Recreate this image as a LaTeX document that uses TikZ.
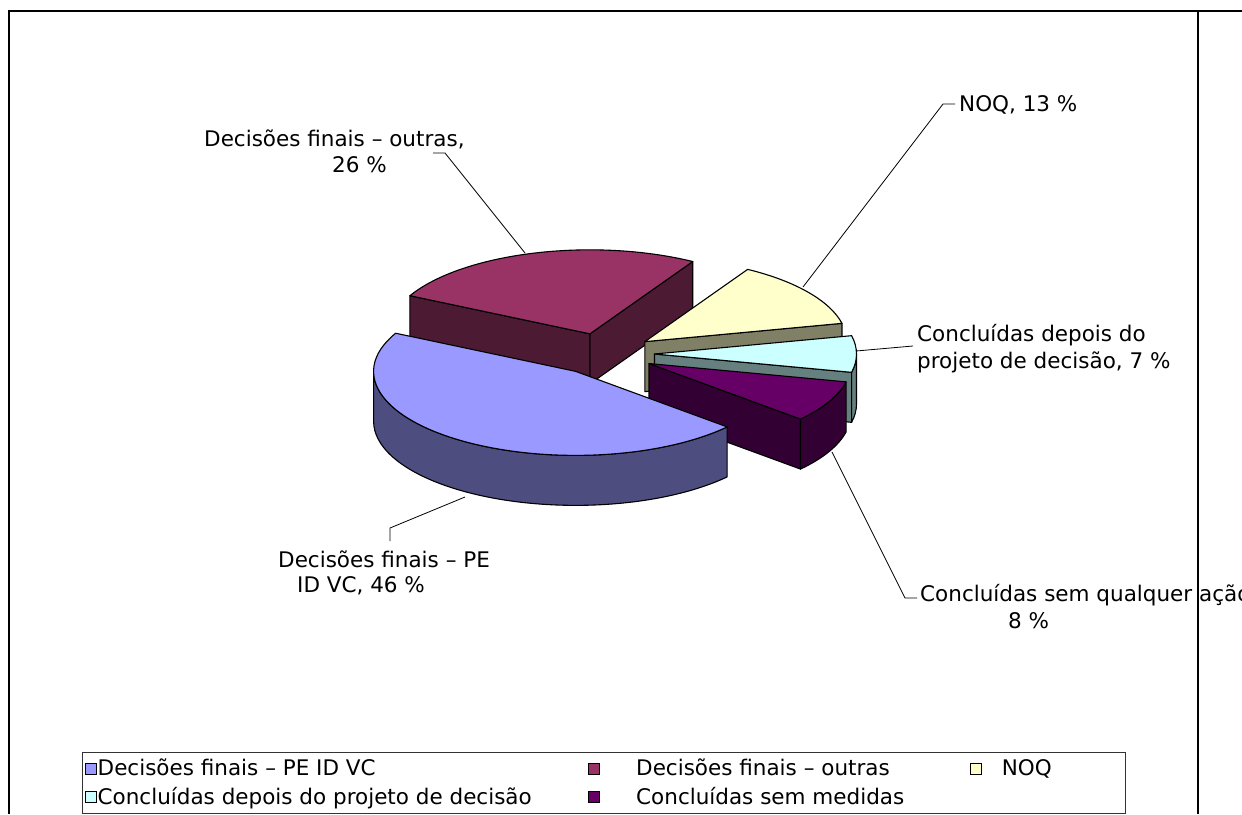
\documentclass[tikz,border=0pt]{standalone}
\usepackage{fontspec}
\setmainfont{DejaVu Sans}
\usetikzlibrary{calc}
\definecolor{blueT}{HTML}{9999FF}
\definecolor{blueS}{HTML}{4D4D80}
\definecolor{maroonT}{HTML}{993366}
\definecolor{maroonS}{HTML}{4D1A33}
\definecolor{yellowT}{HTML}{FFFFCC}
\definecolor{yellowS}{HTML}{808066}
\definecolor{cyanT}{HTML}{CCFFFF}
\definecolor{cyanS}{HTML}{668080}
\definecolor{purpleT}{HTML}{660066}
\definecolor{purpleS}{HTML}{330033}
\begin{document}
\begin{tikzpicture}[x=1pt,y=-1pt,
  face/.style={draw=black,line width=1.1pt,line join=round},
  ell/.style={x radius=202pt,y radius=84pt},
  lbl/.style={inner sep=0pt,anchor=base west,font=\fontsize{21.5}{26}\selectfont},
  legtext/.style={inner sep=0pt,anchor=base west,font=\fontsize{21.5}{26}\selectfont},
  legbox/.style={draw=black,line width=1pt,minimum size=11pt,inner sep=0pt},
  leader/.style={draw=black,line width=0.8pt},
  frame/.style={draw=black,line width=2pt}]
\useasboundingbox (0,0) rectangle (1242,814);
\fill[white] (0,0) rectangle (1242,814);

% frame
\draw[frame] (8.7,814) -- (8.7,11) -- (1242,11);
\draw[frame] (1198.3,11) -- (1198.3,814);

\coordinate (C) at (604,354);
% apexes (exploded slices)
\coordinate (AM) at ($(C)+(106.2:50.5pt and 21pt)$);
\coordinate (AY) at ($(C)+(36:50.5pt and 21pt)$);
\coordinate (AC) at ($(C)+(0:50.5pt and 21pt)$);
\coordinate (AP) at ($(C)+(333:50.5pt and 21pt)$);
\coordinate (AB) at ($(C)+(235.8:50.5pt and 21pt)$);

% maroon slice
\filldraw[face,fill=maroonS] (AM) -- ($(AM)+(59.4:202pt and 84pt)$) -- ++(0,50) -- ($(AM)+(0,50)$) -- cycle;
\filldraw[face,fill=maroonS] (AM) -- ($(AM)+(153:202pt and 84pt)$) -- ++(0,50) -- ($(AM)+(0,50)$) -- cycle;
\filldraw[face,fill=maroonT] (AM) -- ($(AM)+(59.4:202pt and 84pt)$) arc[ell,start angle=59.4,end angle=153] -- cycle;

% yellow slice
\filldraw[face,fill=yellowS] (AY) -- ($(AY)+(12.6:202pt and 84pt)$) -- ++(0,50) -- ($(AY)+(0,50)$) -- cycle;
\filldraw[face,fill=yellowT] (AY) -- ($(AY)+(12.6:202pt and 84pt)$) arc[ell,start angle=12.6,end angle=59.4] -- cycle;

% cyan slice
\filldraw[face,fill=cyanS] (AC) -- ($(AC)+(347.4:202pt and 84pt)$) -- ++(0,50) -- ($(AC)+(0,50)$) -- cycle;
\filldraw[face,fill=cyanS] ($(AC)+(347.4:202pt and 84pt)$) arc[ell,start angle=347.4,end angle=360] -- ++(0,50) arc[ell,start angle=360,end angle=347.4] -- cycle;
\filldraw[face,fill=cyanT] (AC) -- ($(AC)+(347.4:202pt and 84pt)$) arc[ell,start angle=347.4,end angle=372.6] -- cycle;

% purple slice
\filldraw[face,fill=purpleS] (AP) -- ($(AP)+(318.6:202pt and 84pt)$) -- ++(0,50) -- ($(AP)+(0,50)$) -- cycle;
\filldraw[face,fill=purpleS] ($(AP)+(318.6:202pt and 84pt)$) arc[ell,start angle=318.6,end angle=347.4] -- ++(0,50) arc[ell,start angle=347.4,end angle=318.6] -- cycle;
\filldraw[face,fill=purpleT] (AP) -- ($(AP)+(318.6:202pt and 84pt)$) arc[ell,start angle=318.6,end angle=347.4] -- cycle;

% blue slice
\filldraw[face,fill=blueS] ($(AB)+(180:202pt and 84pt)$) arc[ell,start angle=180,end angle=318.6] -- ++(0,50) arc[ell,start angle=318.6,end angle=180] -- cycle;
\filldraw[face,fill=blueT] (AB) -- ($(AB)+(153:202pt and 84pt)$) arc[ell,start angle=153,end angle=318.6] -- cycle;

% labels
\node[lbl] (lblM1) at (204,146.7) {Decisões finais – outras,};
\node[lbl] (lblM2) at (332,172.7) {26 \%};
\node[lbl] (lblY) at (959,111) {NOQ, 13 \%};
\node[lbl] (lblC1) at (917,341.7) {Concluídas depois do};
\node[lbl] (lblC2) at (917,368) {projeto de decisão, 7 \%};
\node[lbl] (lblP1) at (920,601.7) {Concluídas sem qualquer ação,};
\node[lbl] (lblP2) at (1008,628) {8 \%};
\node[lbl] (lblB1) at (278,567.3) {Decisões finais – PE};
\node[lbl] (lblB2) at (297,592.7) {ID VC, 46 \%};

% leaders
\coordinate (pM) at (525,253); \coordinate (bM) at (445,153); \coordinate (eM) at (433,153);
\draw[leader] (pM) -- (bM) -- (eM);
\coordinate (pY) at (803,287); \coordinate (bY) at (943,104); \coordinate (eY) at (955,104);
\draw[leader] (pY) -- (bY) -- (eY);
\coordinate (pC) at (856,351); \coordinate (eC) at (913,346);
\draw[leader] (pC) -- (eC);
\coordinate (pP) at (832,452); \coordinate (bP) at (905,598); \coordinate (eP) at (917,598);
\draw[leader] (pP) -- (bP) -- (eP);
\coordinate (pB) at (465,497); \coordinate (bB) at (390,528); \coordinate (eB) at (390,541);
\draw[leader] (pB) -- (bB) -- (eB);

% legend
\node[draw=black!80,line width=1pt,minimum width=1043pt,minimum height=61pt,inner sep=0pt,anchor=north west] (legend) at (82,752) {};
\node[legbox,fill=blueT] (kB) at (90.5,768.5) {};
\node[legtext] (tB) at (97.5,775.7) {Decisões finais – PE ID VC};
\node[legbox,fill=maroonT] (kM) at (593.5,768.5) {};
\node[legtext] (tM) at (636,775.7) {Decisões finais – outras};
\node[legbox,fill=yellowT] (kY) at (976,768.5) {};
\node[legtext] (tY) at (1001.7,775.7) {NOQ};
\node[legbox,fill=cyanT] (kC) at (90.5,797) {};
\node[legtext] (tC) at (97.5,804.5) {Concluídas depois do projeto de decisão};
\node[legbox,fill=purpleT] (kP) at (593.5,797) {};
\node[legtext] (tP) at (636,804.5) {Concluídas sem medidas};
\end{tikzpicture}
\end{document}
